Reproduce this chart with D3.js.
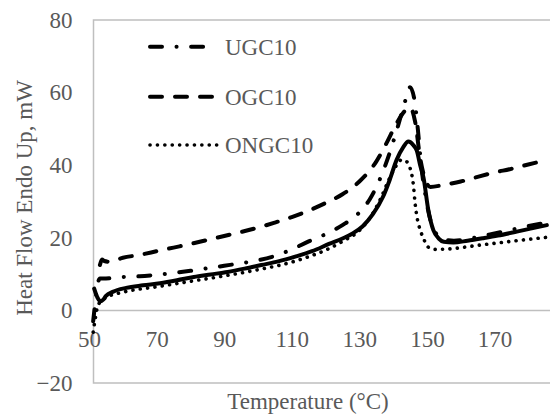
<!DOCTYPE html>
<html><head><meta charset="utf-8">
<script src="https://cdn.jsdelivr.net/npm/d3@7/dist/d3.min.js"></script>
<style>body{margin:0;background:#fff}svg{display:block}</style>
</head><body>
<svg id="c" width="550" height="415"></svg>
<script>
const xTicks = [50, 70, 90, 110, 130, 150, 170];
const yTicks = [-20, 0, 20, 40, 60, 80];
const xTitle = "Temperature (°C)";
const yTitle = "Heat Flow Endo Up, mW";
const legendNames = ["UGC10", "OGC10", "ONGC10"];

// Unlabelled solid series
const solidT = [51.5,52.5,53.5,54.1,55,57,61,66,71,76,81,86,91,96,101,106,111,116,121,125,128,131,134,137,139,141,143,144.5,146,147,148,149,150.4,151.9,153.5,155,157.8,162,166.7,171,176.6,181,185.5];
const solidV = [6,3.5,2.5,2.9,4,5.1,6.2,6.9,7.5,8.3,9.2,9.9,10.6,11.5,12.5,13.5,14.8,16.3,18.3,19.8,21.2,23.2,26.5,31.3,36,41.4,45,46.5,45.5,44,40,36.5,27.7,22.1,19.8,18.9,18.7,19.2,19.9,20.6,21.7,22.6,23.5];

// UGC10 (dash-dot)
const ugcT = [51.2,51.8,52.4,53.2,55,60,65,70,75,80,85,90,95,100,105,110,115,120,125,130,133,136,139,141.5,143.5,145,146.3,147.3,148.3,149.5,151,153,155,158,165,170,175,180,186];
const ugcV = [-3,2,6.5,8.8,8.8,9.2,9.4,9.8,10.3,10.9,11.6,12.3,13,13.8,15,16.8,19,21,23.5,27,30.5,36,43.5,51,57.5,61.5,58,50,40,32,25,20.8,19.5,19.2,20.2,21.2,22.2,23.2,24.3];

// OGC10 (dashed)
const ogcT = [53.2,53.8,54.5,56,60,65,70,75,80,85,90,95,100,105,110,115,120,125,130,135,138,141,143.5,145,146.5,148,149.5,151,155,160,165,170,175,180,186];
const ogcV = [12.5,14,13.6,13.4,14.5,15.3,16.3,17.3,18.3,19.4,20.5,21.6,22.8,24.2,25.7,27.5,29.6,32,35.5,41,46,51.5,55,56,52,42,36,34,34.6,35.5,36.8,38,39,40.2,41.5];

// ONGC10 (dotted)
const ongcT = [51.2,51.7,52.5,53.5,55,60,70,80,90,100,110,115,120,125,130,133,136,139,141,142.5,144,145,146,146.5,147.2,148,149,150.3,152.4,155.9,165.7,175.6,186];
const ongcV = [-6,-3,1,2.5,3.5,5,6.5,8,9.5,11.2,13.3,14.8,16.6,19,22,25.3,30.2,36.5,40,41.5,41,39.2,34.5,29.5,25,22.2,19.8,17.5,16.8,16.9,18,19.1,20.2];

const svg = d3.select("#c");
const txt = "#595959";
const font = "'Liberation Serif','Times New Roman',serif";
const fs = 23;

const x = d3.scaleLinear().domain([50, 170]).range([89.1, 494.5]);
const y = d3.scaleLinear().domain([-20, 80]).range([383, 20]);

const pLeft = 93.5, pTop = 20, pBottom = 383, pRight = 552;

svg.append("path")
  .attr("d", `M${pRight},${pTop}H${pLeft}V${pBottom}H${pRight}`)
  .attr("fill", "none").attr("stroke", "#bfbfbf").attr("stroke-width", 1.5);

svg.append("line").attr("x1", pLeft).attr("x2", pRight)
  .attr("y1", y(0)).attr("y2", y(0))
  .attr("stroke", "#bfbfbf").attr("stroke-width", 1.5);

const xAxis = svg.append("g").attr("transform", `translate(0,${y(0)})`)
  .call(d3.axisBottom(x).tickValues(xTicks).tickSize(0).tickPadding(20).tickFormat(d3.format("d")));
xAxis.select(".domain").remove();
xAxis.selectAll("text").attr("fill", txt).style("font-family", font).style("font-size", fs + "px");

const yAxis = svg.append("g").attr("transform", `translate(${pLeft},0)`)
  .call(d3.axisLeft(y).tickValues(yTicks).tickSize(0).tickPadding(21).tickFormat(d3.format("d")));
yAxis.select(".domain").remove();
yAxis.selectAll("text").attr("fill", txt).style("font-family", font).style("font-size", fs + "px");

svg.append("text").attr("x", 308).attr("y", 409).attr("text-anchor", "middle")
  .attr("fill", txt).style("font-family", font).style("font-size", fs + "px").text(xTitle);
svg.append("text").attr("transform", "translate(32,198) rotate(-90)").attr("text-anchor", "middle")
  .attr("fill", txt).style("font-family", font).style("font-size", fs + "px").text(yTitle);

const styles = {
  solid: {dash: null, w: 4, cap: "round"},
  dashdot: {dash: "12 14.5 0.1 14.5", w: 4, cap: "round"},
  dashed: {dash: "12 13", w: 4, cap: "round"},
  dotted: {dash: "0.1 7.3", w: 3.6, cap: "round"}
};

const line = d3.line().x(d => x(d[0])).y(d => y(d[1])).curve(d3.curveMonotoneX);
const series = [
  {T: ogcT, V: ogcV, s: styles.dashed},
  {T: ongcT, V: ongcV, s: styles.dotted},
  {T: solidT, V: solidV, s: styles.solid},
  {T: ugcT, V: ugcV, s: styles.dashdot}
];
series.forEach(se => {
  const pts = se.T.map((t, i) => [t, se.V[i]]);
  svg.append("path").datum(pts).attr("d", line)
    .attr("fill", "none").attr("stroke", "#000")
    .attr("stroke-width", se.s.w).attr("stroke-linecap", se.s.cap).attr("stroke-linejoin", "round")
    .attr("stroke-dasharray", se.s.dash);
});

const legStyles = [styles.dashdot, styles.dashed, styles.dotted];
const legY = [46.7, 96.7, 145];
legendNames.forEach((n, i) => {
  svg.append("line").attr("x1", 150).attr("x2", 217).attr("y1", legY[i]).attr("y2", legY[i])
    .attr("stroke", "#000").attr("stroke-width", legStyles[i].w)
    .attr("stroke-linecap", legStyles[i].cap).attr("stroke-dasharray", legStyles[i].dash);
  svg.append("text").attr("x", 225).attr("y", legY[i]).attr("dy", "0.35em")
    .attr("fill", txt).style("font-family", font).style("font-size", fs + "px").text(n);
});
</script>
</body></html>
